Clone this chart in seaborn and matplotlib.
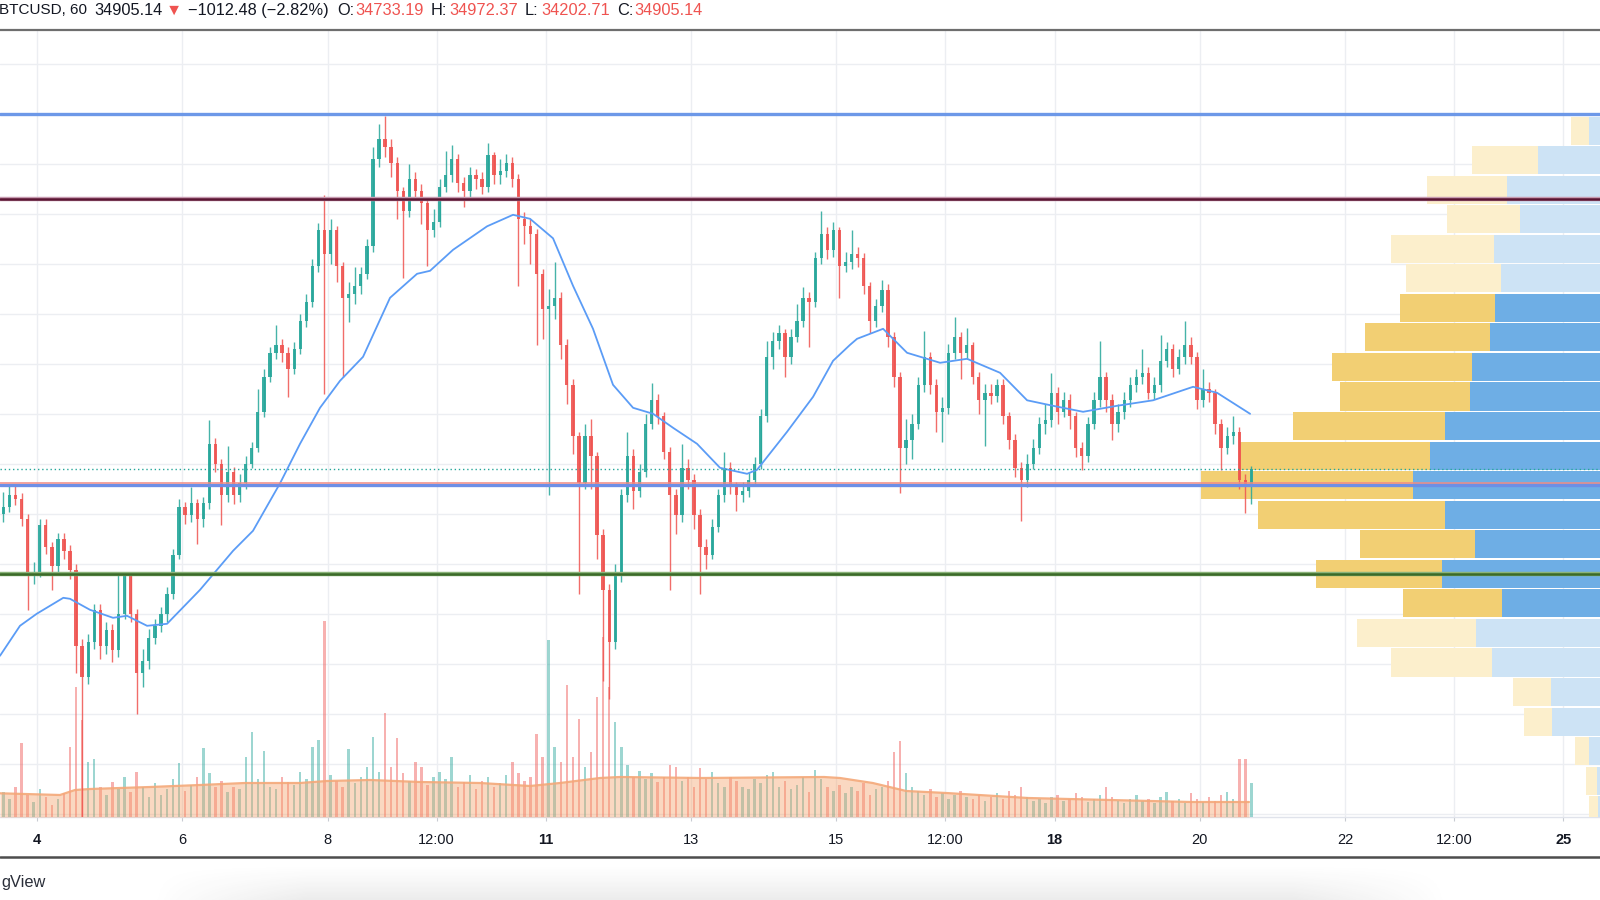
import numpy as np
import matplotlib
matplotlib.use("Agg")
import matplotlib.pyplot as plt
from matplotlib.lines import Line2D
import seaborn as sns

sns.set_theme(style="white")
plt.rcParams["font.family"] = ["Liberation Sans", "DejaVu Sans"]

# ---------------- data (BTCUSD, 2-hour candles, Jan 2021) ----------------
first_open = 34000
close = [34140,34380,34300,33900,32790,32850,33790,33350,32960,33510,
         33270,32880,31370,30740,31450,32090,31370,31690,31290,32010,
         32790,32010,30820,31060,31530,31770,32010,32400,33190,34140,
         33980,34220,33900,34220,35410,35010,34380,34850,34380,34620,
         35010,35330,36040,36750,37230,37380,37230,36910,37300,37860,
         38250,38970,39680,39200,39680,38970,38330,38410,38570,38810,
         39360,41100,41500,41340,41020,40470,40070,40700,40470,40230,
         39680,39850,40550,40780,41100,40630,40470,40780,40700,40550,
         41180,40780,40860,41020,40700,39910,39760,39600,38810,38100,
         38170,38330,37380,36590,35560,34620,35560,35170,33590,32480,
         31450,32790,34380,35170,34460,34850,35800,36280,35960,35250,
         34380,33980,34930,34690,33980,33350,33190,33750,34380,34930,
         34540,34380,34460,34690,35010,35960,37150,37460,37620,37150,
         37540,37860,38330,38250,39120,39600,39280,39680,38970,39050,
         39200,39120,38570,37860,38170,38490,37540,36750,35330,35490,
         35800,36590,37150,36590,36040,36120,37230,37540,37230,37380,
         36750,36280,36430,36360,36590,35960,35490,34930,34690,35010,
         35330,35800,35880,36430,36040,36280,35960,35330,35170,35800,
         36280,36750,36280,35800,36040,36280,36590,36750,36820,36430,
         36590,37070,37300,36910,37150,37380,37150,36280,36510,36430,
         35800,35330,35560,35640,34690,34540,34905]
high = [34450,34560,34615,34420,34000,33050,33900,33900,33450,33630,
        33620,33380,33000,31500,31600,32200,32200,31850,31800,32800,
        32830,32850,32100,31300,31700,31900,32150,32550,33300,34300,
        34250,34540,34300,34350,35880,35520,35100,35370,34950,34800,
        35170,35450,36500,36900,37350,37780,37500,37350,37450,38000,
        38400,39100,39830,40390,39900,39760,39050,38650,38950,38950,
        39500,41340,41810,41970,41500,41150,40550,41000,40850,40600,
        40350,40100,40700,41260,41380,41200,40750,40950,40900,40850,
        41420,41250,41100,41200,41150,40800,40050,39900,39700,38900,
        38500,39040,38450,37500,36700,35650,35800,35900,35250,33700,
        32600,33000,34500,35640,35300,35000,36000,36630,36400,36050,
        35350,34500,35400,35100,34800,34100,33500,33900,34500,35250,
        35050,34650,34650,34850,35150,36100,37460,37650,37780,37700,
        37700,38200,38550,38450,39250,40070,39750,39850,39750,39250,
        39680,39350,39220,38650,38300,38690,38600,37650,36850,35900,
        36000,36750,37660,37250,36700,36350,37400,37940,37650,37730,
        37450,36850,36600,36600,36710,36700,36050,35600,35050,35200,
        35500,35950,36200,36830,36550,36450,36400,36050,35450,35950,
        36450,37460,36850,36400,36200,36450,36750,36900,37300,36950,
        36750,37580,37450,37400,37300,37860,37550,37250,36900,36650,
        36500,35900,35750,35960,35750,34800,34972]
low = [33850,34050,34180,33760,32090,32600,32740,33200,32480,32850,
       33100,32700,30820,27950,30600,31300,31100,31200,31050,31150,
       31900,31850,30000,30550,30900,31400,31650,31850,32300,33100,
       33800,33850,33400,33750,34100,34850,33790,34250,34200,34250,
       34500,34920,35250,35950,36650,37100,37050,36350,36800,37200,
       37750,38150,38850,36400,39000,38650,36750,37850,38200,38400,
       38700,39250,40950,41150,40750,39910,38730,39950,40300,39800,
       38970,39550,39750,40450,40650,40450,40150,40350,40500,40400,
       40450,40600,40600,40750,40550,38570,39400,39000,37380,37500,
       34380,37900,37100,36200,35200,32400,34500,34500,33100,30660,
       30300,31300,32650,34250,34100,34350,34750,35700,35800,35100,
       32480,33600,33850,34500,33700,32400,32900,33100,33650,34250,
       34400,34060,34250,34350,34600,34900,35850,36900,37300,36750,
       37000,37450,37750,37340,38150,39000,39100,39150,38330,38850,
       38900,38950,38400,37620,37750,38050,37350,36550,34420,35000,
       35100,35700,36450,36400,35650,35450,36000,37100,36700,37100,
       36600,36000,35370,36200,36250,35800,35300,34750,33860,34550,
       34900,35200,35600,35750,35800,35950,35700,35150,34890,35050,
       35700,36150,36050,35490,35650,35900,36150,36450,36600,36300,
       36300,36450,36950,36750,36800,37000,37000,36100,36150,36250,
       35600,34890,35200,35400,34500,34020,34202]
volume = [250,180,300,740,220,150,280,200,120,180,
          240,700,1300,970,550,580,300,220,350,280,
          400,250,450,300,200,340,220,280,380,540,
          260,320,400,690,440,300,360,250,300,280,
          600,850,380,660,300,280,400,350,320,450,
          380,700,770,1960,420,360,300,680,340,400,
          500,800,450,1040,500,790,440,360,550,500,
          320,400,450,380,600,300,350,420,280,360,
          400,300,340,420,550,440,360,400,830,600,
          1770,700,550,1320,600,980,500,650,1200,1800,
          1300,950,700,520,400,460,380,440,350,400,
          520,500,360,400,300,490,380,450,340,300,
          400,360,300,280,380,340,420,450,300,360,
          280,320,400,250,470,380,300,260,320,240,
          300,260,340,220,280,300,360,650,760,440,
          300,260,220,280,200,240,180,220,260,200,
          180,220,160,200,240,180,260,220,300,200,
          160,180,140,200,220,160,180,240,200,150,
          180,220,300,200,160,140,180,220,160,180,
          140,200,250,160,180,140,240,180,150,200,
          160,220,250,180,580,580,340]

# price moving average
ma_day = [3.495,3.770,4.000,4.366,4.458,4.733,5.050,5.242,5.518,5.793,
          6.247,6.701,6.975,7.347,7.622,7.897,8.172,8.489,8.860,9.232,
          9.410,9.727,10.195,10.552,10.786,11.102,11.377,11.652,11.927,12.203,
          12.478,12.753,13.083,13.399,13.771,13.908,14.321,14.679,14.954,15.188,
          15.284,15.642,15.972,16.426,16.797,17.251,17.623,17.980,18.393,18.860,
          19.356,19.906,20.236,20.690]
ma_price = [31170,31770,32010,32330,32310,32090,31930,31970,31770,31810,
            32490,33270,33670,34620,35410,36130,36670,37150,38330,38810,
            38870,39290,39760,39990,39910,39520,38570,37710,36590,36130,
            36010,35730,35410,34930,34810,34890,35650,36350,37070,37390,
            37510,37710,37230,37030,37110,36830,36280,36170,36050,36170,
            36280,36550,36430,36010]

# volume moving average
vma_day = [3.495,4.32,4.527,4.733,5.559,6.247,6.866,7.622,7.994,8.585,
           9.273,10.098,10.786,11.198,11.748,12.024,13.15,14.83,15.05,15.50,
           15.96,16.51,17.635,18.763,19.877,20.675]
vma = [237,220,270,280,300,320,340,340,360,370,
       350,340,310,340,390,400,390,400,390,340,
       260,240,190,170,150,150]

# visible-range volume profile, rows from top (highest price) down
profile_top = 41970
row_size = 591
profile_up = [110,617,933,800,1057,990,1050,1103,1280,1297,1553,1697,
              1870,1553,1250,1580,983,1240,1083,490,483,113,33,20]
profile_down = [180,660,797,730,1030,947,953,1244,1403,1300,1514,1916,
                2120,1870,1147,1260,987,1193,1007,377,277,140,107,87]
value_area_rows = (6, 16)

# drawn horizontal levels
level_top = 42000
level_resist = 40300
level_mid = 34590
level_mid_red = 34625
level_support = 32810
last_price = 34905

# x axis ticks (day of month)
tick_pos = [4, 6, 8, 9.5, 11, 13, 15, 16.5, 18, 20, 22, 23.5, 25]
tick_lab = ["4", "6", "8", "12:00", "11", "13", "15", "12:00", "18", "20", "22", "12:00", "25"]
bold_ticks = {"4", "11", "18", "25"}

header = [("BTCUSD, 60", -1, "ink", 11.0), ("34905.14", 94, "ink", 11.8),
          ("\u25BC", 166, "red", 11.8), ("\u22121012.48 (\u22122.82%)", 188, "ink", 11.8),
          ("O:", 337, "ink", 11.8), ("34733.19", 355, "red", 11.8),
          ("H:", 431, "ink", 11.8), ("34972.37", 449, "red", 11.8),
          ("L:", 525, "ink", 11.8), ("34202.71", 541, "red", 11.8),
          ("C:", 617, "ink", 11.8), ("34905.14", 634, "red", 11.8)]
watermark = "gView"

# ---------------- styling ----------------
INK = "#131722"
UP = "#26a69a"
DOWN = "#ef5350"
GRID = "#eceef2"
W, H = 1600, 900
PLOT_TOP, PLOT_BOT = 31, 817
XMIN, XMAX = 3.4952, 25.503
YMIN, YMAX = 27946, 43666

fig = plt.figure(figsize=(16, 9), dpi=100)
fig.patch.set_facecolor("white")
rect = [0, 1 - PLOT_BOT / H, 1, (PLOT_BOT - PLOT_TOP) / H]

ax = fig.add_axes(rect)
ax.set_xlim(XMIN, XMAX)
ax.set_ylim(YMIN, YMAX)
ax.set_yticks(np.arange(28000, 44000, 1000))
ax.set_xticks(tick_pos)
ax.set_xticklabels(tick_lab)
ax.grid(True, color=GRID, lw=1.0)
ax.tick_params(axis="y", left=False, labelleft=False)
ax.tick_params(axis="x", bottom=True, length=3, width=0.8, color="#c8cbd2",
               pad=8.5, labelsize=10.5, labelcolor=INK)
for lbl in ax.get_xticklabels():
    if lbl.get_text() in bold_ticks:
        lbl.set_fontweight("bold")
for s in ["top", "left", "right"]:
    ax.spines[s].set_visible(False)
ax.spines["bottom"].set_color("#e0e3eb")
ax.spines["bottom"].set_linewidth(1.0)
ax.set_zorder(0)

# volume profile
axp = fig.add_axes(rect, sharey=ax)
axp.set_zorder(1)
axp.patch.set_visible(False)
axp.axis("off")
axp.set_xlim(16000, 0)
n_rows = len(profile_up)
centers = np.array([profile_top - (i + 0.5) * row_size for i in range(n_rows)])
va0, va1 = value_area_rows
in_va = np.array([va0 <= i <= va1 for i in range(n_rows)])
col_up = np.where(in_va, "#6eaee5", "#cde3f5")
col_dn = np.where(in_va, "#f2cf73", "#fcefcc")
axp.barh(centers, profile_up, height=row_size * 0.95, left=0, color=col_up, lw=0)
axp.barh(centers, profile_down, height=row_size * 0.95, left=profile_up, color=col_dn, lw=0)
axp.set_ylim(YMIN, YMAX)

# volume pane
o = np.array([first_open] + close[:-1], dtype=float)
c = np.array(close, dtype=float)
n = len(c)
t = 3.5 + (np.arange(n) + 0.5) / 12.0
is_up = c >= o
colors = np.where(is_up, UP, DOWN)

axv = fig.add_axes(rect, sharex=ax)
axv.set_zorder(2)
axv.patch.set_visible(False)
axv.set_ylim(0, 7860)
axv.bar(t, volume, width=0.4 / 12, color=colors, alpha=0.45, lw=0)
axv.fill_between(vma_day, vma, 0, color="#f5a36c", alpha=0.42, lw=0)
sns.lineplot(x=vma_day, y=vma, ax=axv, color="#f4a878", lw=1.6, alpha=0.9)
axv.set_xlim(XMIN, XMAX)
axv.axis("off")

# candles, MA and levels
axc = fig.add_axes(rect, sharex=ax, sharey=ax)
axc.set_zorder(3)
axc.patch.set_visible(False)
axc.vlines(t, low, high, colors=colors, lw=1.0, alpha=0.85)
body = np.maximum(np.abs(c - o), 25)
axc.bar(t, body, bottom=np.minimum(o, c), width=0.55 / 12, color=colors, lw=0, alpha=0.9)
sns.lineplot(x=ma_day, y=ma_price, ax=axc, color="#5b9cf6", lw=1.3)

axc.axhline(level_top, color="#6d98e8", lw=2.4)
axc.axhline(level_resist, color="#c79bb0", lw=3.2)
axc.axhline(level_resist, color="#5b1532", lw=1.8)
axc.axhline(last_price, color=UP, lw=1.0, ls=(0, (1, 2)))
axc.axhline(level_mid, color="#6d8fe6", lw=2.4)
axc.axhline(level_mid_red, color="#f08b85", lw=1.1)
axc.axhline(level_support, color="#8bb37a", lw=3.2)
axc.axhline(level_support, color="#3b6a28", lw=1.8)
axc.set_xlim(XMIN, XMAX)
axc.set_ylim(YMIN, YMAX)
axc.axis("off")

# header legend
for s, x, col, fs in header:
    fig.text(x / W, 1 - 10.5 / H, s, color=(DOWN if col == "red" else INK),
             fontsize=fs, va="center", ha="left")

# separators
fig.add_artist(Line2D([0, 1], [1 - 29.8 / H] * 2, transform=fig.transFigure,
                      color="#6e6e6e", lw=1.6))
fig.add_artist(Line2D([0, 1], [1 - 857 / H] * 2, transform=fig.transFigure,
                      color="#4d4d4d", lw=1.8))

# bottom shadow strip
axs = fig.add_axes([150 / W, 0, 1300 / W, 36 / H])
axs.axis("off")
gy = np.linspace(0, 1, 40)[:, None]
gx = np.linspace(0, 1, 400)[None, :]
taper = np.clip(np.minimum(gx, 1 - gx) / 0.12, 0, 1)
alpha = (gy ** 1.2) * 0.10 * taper
img = np.zeros((40, 400, 4))
img[..., :3] = 0.25
img[..., 3] = alpha
axs.imshow(img, aspect="auto", extent=[0, 1, 0, 1], origin="upper")

fig.text(1 / W, 1 - 882 / H, watermark, color="#2a2e39", fontsize=11.8,
         ha="left", va="center")

fig.savefig("out.png", dpi=100)
